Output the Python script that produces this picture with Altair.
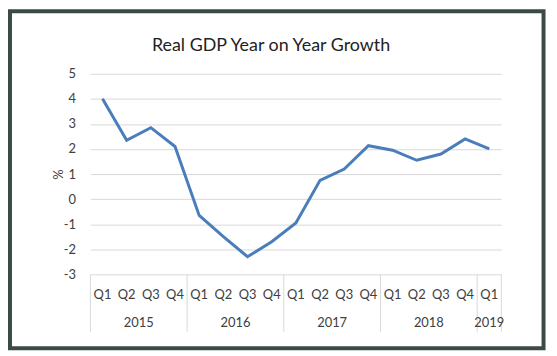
import altair as alt
import pandas as pd

title_text = "Real GDP Year on Year Growth"
quarters = ["Q1", "Q2", "Q3", "Q4", "Q1", "Q2", "Q3", "Q4", "Q1", "Q2", "Q3", "Q4",
            "Q1", "Q2", "Q3", "Q4", "Q1"]
years = ["2015"] * 4 + ["2016"] * 4 + ["2017"] * 4 + ["2018"] * 4 + ["2019"]
growth = [4.0, 2.35, 2.85, 2.1, -0.65, -1.5, -2.3, -1.7, -0.95, 0.75, 1.2, 2.13,
          1.95, 1.55, 1.8, 2.4, 2.0]
y_ticks = [-3, -2, -1, 0, 1, 2, 3, 4, 5]

W, H = 414, 202
FONT = "Lato"
TXT = "#404040"
GRID = "#d9d9d9"

df = pd.DataFrame({"idx": list(range(len(growth))), "quarter": quarters,
                   "year": years, "growth": growth})

# year groups
yr = df.groupby("year", sort=False)["idx"].agg(["min", "max"]).reset_index()
yr["center"] = (yr["min"] + yr["max"]) / 2
year_df = yr[["year", "center"]]
bounds = sorted(set([v - 0.5 for v in yr["min"]] + [yr["max"].iloc[-1] + 0.5]))
bound_df = pd.DataFrame({"b": bounds})

xscale = alt.Scale(domain=[-0.5, len(growth) - 0.5], nice=False, zero=False)

line = alt.Chart(df).mark_line(color="#4a7ebb", strokeWidth=3).encode(
    x=alt.X("idx:Q", scale=xscale, axis=None),
    y=alt.Y("growth:Q", scale=alt.Scale(domain=[-3, 5], nice=False, zero=False),
            axis=alt.Axis(values=y_ticks, grid=True, gridColor=GRID, ticks=False,
                          domain=False, title="%", titleFont=FONT, titleFontSize=13,
                          titleFontWeight="normal", titleColor=TXT, titlePadding=-2,
                          labelPadding=15, labelFontSize=13, labelFont=FONT,
                          labelColor=TXT, labelExpr="datum.value + ''")),
)

q_text = alt.Chart(df).mark_text(font=FONT, fontSize=13, color=TXT,
                                 baseline="middle").encode(
    x=alt.X("idx:Q", scale=xscale, axis=None),
    y=alt.value(H + 21),
    text="quarter:N",
)

seps = alt.Chart(bound_df).mark_rule(color=GRID, strokeWidth=1).encode(
    x=alt.X("b:Q", scale=xscale, axis=None),
    y=alt.value(H),
    y2=alt.value(H + 58),
)

year_text = alt.Chart(year_df).mark_text(font=FONT, fontSize=13, color=TXT,
                                          baseline="middle").encode(
    x=alt.X("center:Q", scale=xscale, axis=None),
    y=alt.value(H + 49),
    text="year:N",
)

title = alt.Chart(pd.DataFrame({"t": [title_text]})).mark_text(
    font=FONT, fontSize=18, color="#222222", baseline="middle", align="center"
).encode(x=alt.value(182), y=alt.value(-28), text="t:N")

border = alt.Chart(pd.DataFrame({"a": [0]})).mark_rect(
    fillOpacity=0, stroke="#3b4a44", strokeWidth=4
).encode(
    x=alt.value(-81), x2=alt.value(456.5), y=alt.value(-63), y2=alt.value(276.5)
)

chart = alt.layer(line, seps, q_text, year_text, title, border).properties(
    width=W, height=H,
    autosize=alt.AutoSizeParams(type="none"),
    padding={"left": 83, "top": 65, "right": 48, "bottom": 79},
).configure_view(strokeWidth=0)

chart.save("out.html", embed_options={"renderer": "svg", "actions": False})
